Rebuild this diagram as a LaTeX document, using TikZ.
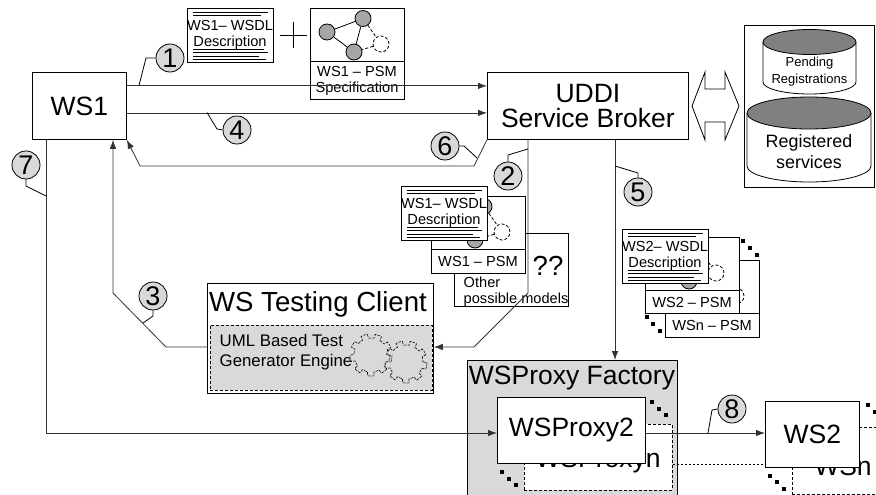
\documentclass[tikz,border=0pt]{standalone}
\usepackage{fontspec}
\setmainfont{Liberation Sans}
\usetikzlibrary{arrows.meta,shapes.geometric}

\definecolor{paleGray}{HTML}{D9D9D9}
\definecolor{midGray}{HTML}{A6A6A6}
\definecolor{darkGray}{HTML}{808080}

\tikzset{
	box/.style={draw,fill=white,anchor=north west,inner sep=0pt,align=center},
	dashbox/.style={draw,densely dashed,anchor=north west,inner sep=0pt},
	stepnum/.style={draw,circle,fill=paleGray,minimum size=28pt,inner sep=0pt,font=\fontsize{27}{27}\selectfont},
	graphdot/.style={draw,circle,fill=midGray,minimum size=16pt,inner sep=0pt},
	blankdot/.style={draw,circle,densely dashed,minimum size=16pt,inner sep=0pt},
	pip/.style={fill=black,minimum size=4pt,inner sep=0pt},
	small/.style={font=\fontsize{14.6}{16}\selectfont,align=center},
	big/.style={font=\fontsize{26.5}{25}\selectfont,align=center},
	flow/.style={->,line width=0.8pt,draw=black!80}
}

\begin{document}
\begin{tikzpicture}[x=1pt,y=-1pt,>={Latex[length=9pt,width=6.5pt]},line width=0.8pt]
	\useasboundingbox (0,0) rectangle (876,495);

	% the side boxes behind the models
	\node[box,minimum width=114pt,minimum height=73pt] (other) at (454,233) {};
	\node[small,anchor=west,align=left] (othertext) at (460,292) {Other\\possible models};
	\node[font=\fontsize{27.6}{27.6}\selectfont] (quest) at (548,266) {??};

	% draw the PSM boxes with their small graphs
	\foreach \name/\x/\y/\h/\ytext in {
		one/310/8/91/{WS1 -- PSM\\Specification},
		two/431/196/77/{WS1 -- PSM},
		last/665/260/77/{WSn -- PSM},
		three/645/237/76/{WS2 -- PSM}} {
		\node[box,minimum width=94pt,minimum height=\h pt] (\name) at (\x,\y) {};
		\coordinate (\name-l) at (\x,\y+53.5);
		\coordinate (\name-r) at (\x+94,\y+53.5);
		\draw (\name-l) -- (\name-r);
		\node[small] (\name-text) at (\x+47,{\y+54+(\h-54)/2}) {\ytext};
		\node[graphdot] (\name-a) at (\x+17,\y+24) {};
		\node[graphdot] (\name-b) at (\x+53,\y+10.5) {};
		\node[graphdot] (\name-c) at (\x+44,\y+44) {};
		\node[blankdot] (\name-d) at (\x+71,\y+36) {};
		\draw (\name-a) -- (\name-b) -- (\name-c) -- (\name-a);
		\draw[densely dashed] (\name-b) -- (\name-d) -- (\name-c);
	}

	% draw the WSDL sheets
	\foreach \name/\x/\y/\ytext in {
		sheeta/187/8/WS1,
		sheetb/401/186/WS1,
		sheetc/622/229/WS2} {
		\node[box,minimum width=86pt,minimum height=54pt] (\name) at (\x,\y) {};
		\node[small] (\name-text) at (\x+43,\y+27) {\ytext– WSDL\\Description};
		\foreach \ya/\len in {4/81,7/74,41/77,44/81,48/72,51/79}
			\draw[line width=0.6pt] (\x+6,\y+\ya) -- (\x+\len,\y+\ya);
	}
	% the plus sign
	\draw (280,35) -- (307,35) (293.5,22) -- (293.5,48);

	% the main boxes
	\node[box,big,minimum width=94pt,minimum height=67pt] (wsone) at (32,72) {WS1};
	\node[box,big,minimum width=201pt,minimum height=67pt] (uddi) at (487,72) {UDDI\\Service Broker};

	% the two registries
	\node[box,minimum width=130pt,minimum height=162pt] (registry) at (744,25) {};
	\draw[fill=white] (763,42) -- (763,82) arc[start angle=180,end angle=360,x radius=46.5pt,y radius=12pt] -- (856,42);
	\draw[fill=darkGray] (809.5,42) ellipse[x radius=46.5pt,y radius=12.5pt];
	\draw[fill=white] (747,113) -- (747,166) arc[start angle=180,end angle=360,x radius=62pt,y radius=16pt] -- (871,113);
	\draw[fill=darkGray] (809,113) ellipse[x radius=62pt,y radius=16pt];
	\node[font=\fontsize{13}{17}\selectfont,align=center] (pending) at (809.5,72) {Pending\\Registrations};
	\node[font=\fontsize{17.9}{21}\selectfont,align=center] (registered) at (809,152) {Registered\\services};

	% the wide double arrow
	\draw[fill=white] (692,106) -- (705,72) -- (705,89) -- (725,89) -- (725,72) -- (739,106)
		-- (725,140) -- (725,122) -- (705,122) -- (705,140) -- cycle;

	% the testing client
	\node[box,minimum width=226pt,minimum height=110pt] (client) at (207,283) {};
	\node[font=\fontsize{27.6}{28}\selectfont] (clienttitle) at (318,304) {WS Testing Client};
	\node[dashbox,fill=paleGray,minimum width=222pt,minimum height=65pt] (engine) at (210,325) {};
	\node[font=\fontsize{16.8}{20}\selectfont,align=left,anchor=west] (enginetext) at (216,352) {UML Based Test\\Generator Engine};
	\foreach \gx/\gy in {371/355,406/362}
		\draw[white,line width=0.6pt,postaction={draw,black,dash pattern=on 3pt off 1pt}]
			plot[domain=0:360,samples=217,shift={(\gx,\gy)}] (\x:{ifthenelse(sin(9*\x)>0,21,17)});

	% the factory and its proxies
	\node[box,fill=paleGray,minimum width=210pt,minimum height=136pt] (factory) at (467,360) {};
	\node[big] (factorytitle) at (572,378) {WSProxy Factory};
	\node[dashbox,fill=white,minimum width=148pt,minimum height=66pt] (proxyn) at (524,424) {};
	\node[big,anchor=base] (proxyntext) at (598,467) {WSProxyn};
	\node[box,big,minimum width=148pt,minimum height=66pt] (proxytwo) at (497,397) {WSProxy2};

	% the web services
	\node[dashbox,minimum width=94pt,minimum height=67pt] (wsn) at (792,427) {};
	\node[big,anchor=base] (wsntext) at (843,475) {WSn};
	\node[box,big,minimum width=94pt,minimum height=66pt] (wstwo) at (765,401) {WS2};

	% the dots for "and so on"
	\foreach \x/\y in {743/241,750/248,757/255,647/317,653/324,660/331,
		652/402,659/409,666/415,502/472,509/479,516/485,
		868/405,875/412,770/476,777/482,784/489}
		\node[pip] at (\x,\y) {};

	% bends of the connectors
	\coordinate (bendsix) at (474,166);
	\coordinate (bendsixb) at (140,166);
	\coordinate (bendthree) at (166,347);
	\coordinate (bendthreeb) at (113,293);
	\coordinate (bendq) at (528,293);
	\coordinate (bendqb) at (474,347);
	\coordinate (bendseven) at (46,433);
	\coordinate (factoryin) at (615,360);

	% draw the connectors
	\draw[flow] ([yshift=20pt]wsone.east) -- ([yshift=20pt]uddi.west);
	\draw[flow] ([yshift=-7pt]wsone.east) -- ([yshift=-7pt]uddi.west);
	\draw[flow] (uddi.south west) -- (bendsix) -- (bendsixb) -- (wsone.south east);
	\draw[flow] (client.west |- bendthree) -- (bendthree) -- (bendthreeb) -- (bendthreeb |- wsone.south);
	\draw[flow] (bendq |- uddi.south) -- (bendq) -- (bendqb) -- (client.east |- bendqb);
	\draw[flow] (factoryin |- uddi.south) -- (factoryin);
	\draw[flow] (wsone.south -| bendseven) -- (bendseven) -- (proxytwo.west |- bendseven);
	\draw[flow] (proxytwo.east |- bendseven) -- (wstwo.west |- bendseven);
	\draw[dash pattern=on 2pt off 2pt] (proxyn.east |- 0,464) -- (wstwo.west |- 0,464);

	% number the steps, each with its small leader
	\foreach \name/\x/\y/\txt in {
		one/170/58/1,two/508/176/2,three/153/296/3,four/237/130/4,
		five/638/192/5,six/445/146/6,seven/26/165/7,eight/732/409/8}
		\node[stepnum] (step\name) at (\x,\y) {\txt};
	\foreach \name/\side/\bx/\by/\ex/\ey in {
		one/west/146/58/139/85.5,
		two/north/508/155/528/149,
		three/south/153/316/143/323,
		four/west/217/129/207/112.5,
		five/north/638/173/615/166,
		six/east/464/146/477/158,
		seven/south/26/186/46/196,
		eight/west/712/410/708/433}
		\draw (step\name.\side) -- (\bx,\by) -- (\ex,\ey);
\end{tikzpicture}
\end{document}
